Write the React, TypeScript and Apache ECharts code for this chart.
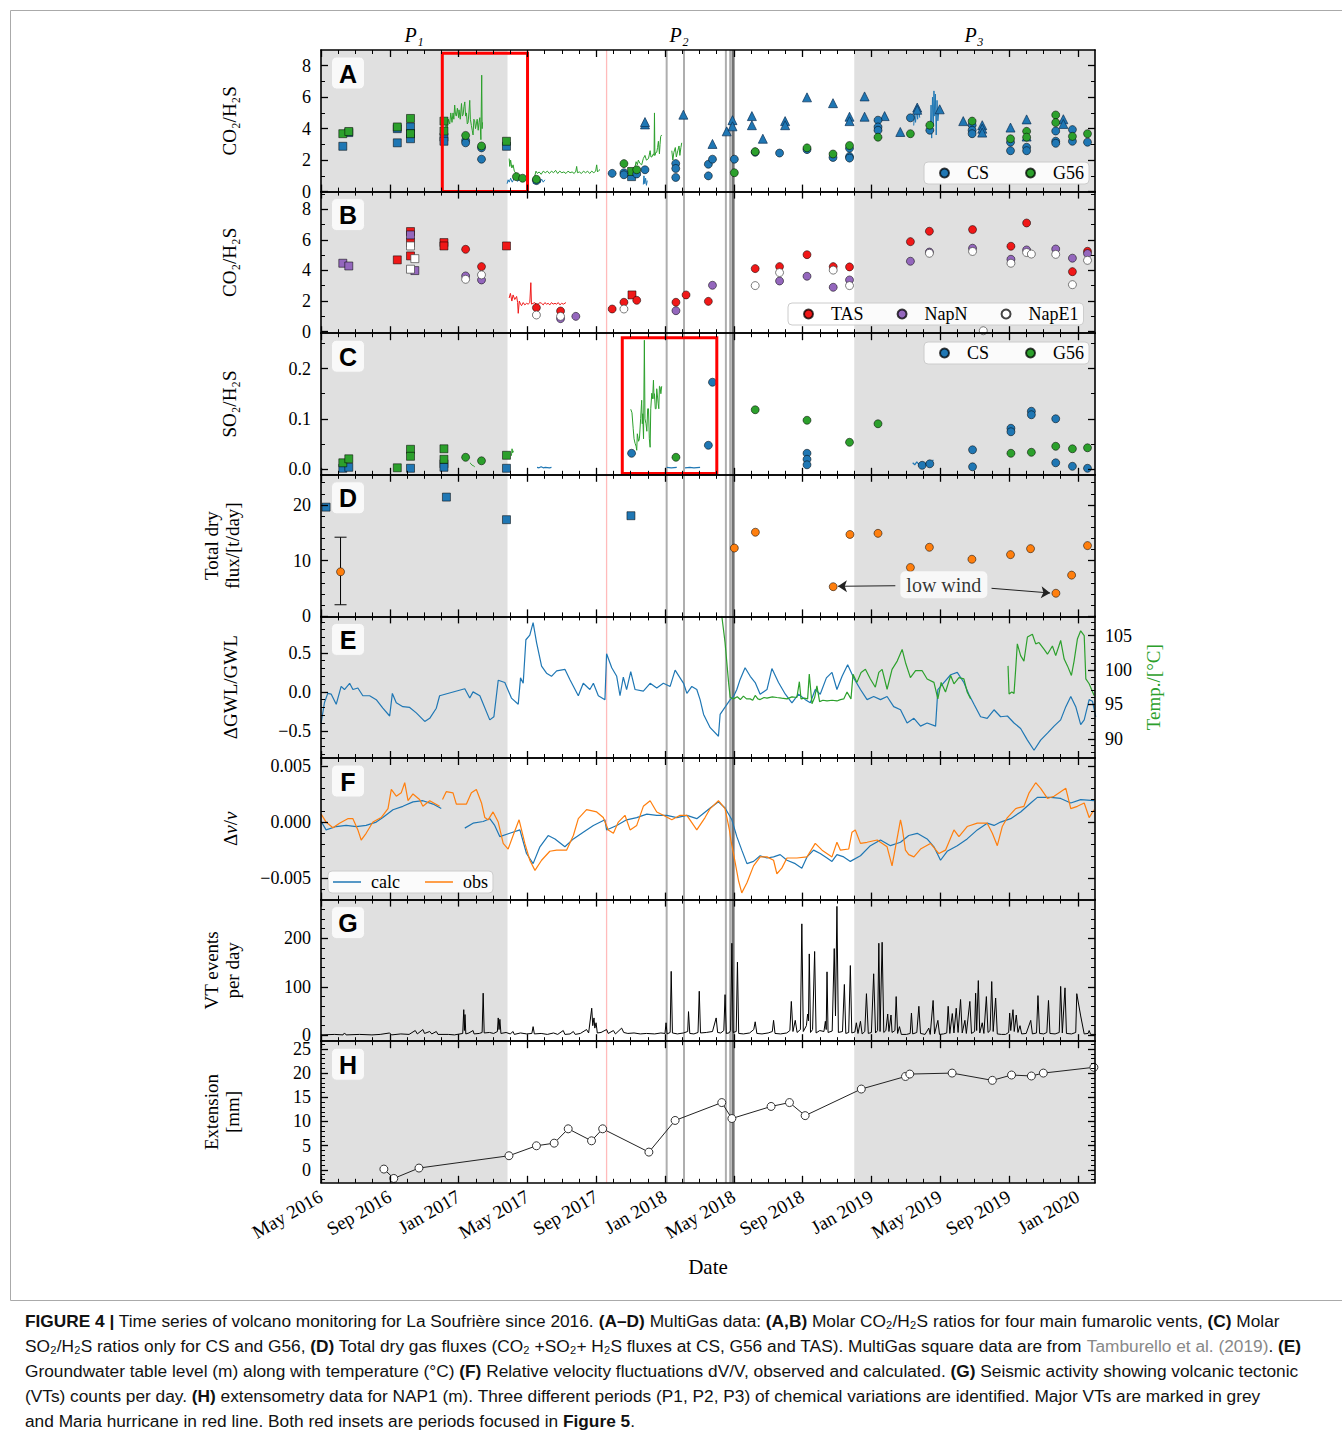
import React, { useEffect, useRef } from "react";
import * as echarts from "echarts";

const SERIF = '"Liberation Serif", "DejaVu Serif", serif';
const SANS = '"Liberation Sans", Arial, sans-serif';

const MONTH_NAMES = ["Jan", "Feb", "Mar", "Apr", "May", "Jun", "Jul", "Aug", "Sep", "Oct", "Nov", "Dec"];
// x axis unit: months since Jan 2016
const X_TICK_MONTHS = [4, 8, 12, 16, 20, 24, 28, 32, 36, 40, 44, 48];
const X_RANGE = [4, 49];

const BLUE = "#1f77b4";
const GREEN = "#2ca02c";
const RED = "#f01818";
const PURPLE = "#9467bd";
const ORANGE = "#ff7f0e";

// ---------- periods and event lines (decimal years)
const PERIOD_SHADES = [[2016.333, 2017.237], [2018.917, 2020.09]];
const MARIA_LINE = [2017.717];
const VT_LINES = [2018.008, 2018.092, 2018.295, 2018.316];
const VT_MAIN_LINE = [2018.33];
const RED_BOX_A = [[2016.921, 2017.334, 0, 8.8]];
const RED_BOX_C = [[2017.793, 2018.251, -0.0092, 0.262]];

// ---------- Panel A : CO2/H2S (CS, G56)
const aCsSquares = [[2016.439, 2.88], [2016.468, 3.75], [2016.703, 3.1], [2016.703, 4.0], [2016.767, 4.11], [2016.767, 3.68], [2016.767, 3.36], [2016.929, 3.46], [2016.929, 3.2], [2017.232, 2.88], [2017.838, 0.95]];
const aG56Squares = [[2016.439, 3.68], [2016.468, 3.82], [2016.703, 4.11], [2016.767, 4.65], [2016.767, 3.68], [2016.929, 4.48], [2016.929, 3.85], [2017.232, 3.2], [2017.838, 1.28]];
const aCsCircles = [[2017.034, 3.25], [2017.034, 3.1], [2017.111, 2.78], [2017.111, 2.06], [2017.377, 0.7], [2017.744, 1.16], [2017.801, 1.2], [2017.801, 1.07], [2017.863, 1.12], [2017.903, 1.39], [2018.052, 1.78], [2018.052, 1.47], [2018.052, 0.9], [2018.21, 1.0], [2018.21, 1.74], [2018.23, 2.06], [2018.336, 2.06], [2018.437, 2.5], [2018.555, 2.45], [2018.688, 2.67], [2018.814, 2.17], [2018.894, 2.75], [2018.894, 2.23], [2018.894, 2.13], [2019.032, 4.54], [2019.032, 4.11], [2019.032, 3.9], [2019.189, 4.69], [2019.283, 3.9], [2019.488, 4.22], [2019.488, 3.9], [2019.488, 3.68], [2019.674, 3.14], [2019.674, 2.6], [2019.752, 2.82], [2019.752, 2.6], [2019.893, 3.85], [2019.893, 3.2], [2019.893, 3.07], [2019.974, 3.94], [2019.974, 3.2], [2020.047, 3.14]];
const aG56Circles = [[2017.034, 3.57], [2017.111, 2.9], [2017.28, 0.95], [2017.31, 0.85], [2017.377, 0.78], [2017.801, 1.78], [2017.863, 1.39], [2018.336, 1.2], [2018.437, 2.54], [2018.688, 2.78], [2018.814, 2.39], [2018.894, 2.93], [2019.032, 3.46], [2019.189, 3.68], [2019.283, 4.22], [2019.488, 4.48], [2019.674, 3.36], [2019.752, 3.83], [2019.752, 3.46], [2019.893, 4.87], [2019.893, 4.39], [2019.974, 3.51], [2020.047, 3.68]];
const aCsTriangles = [[2017.903, 4.27], [2017.903, 4.42], [2018.089, 4.89], [2018.23, 3.03], [2018.299, 3.83], [2018.327, 4.54], [2018.327, 4.15], [2018.421, 4.8], [2018.421, 4.22], [2018.474, 3.36], [2018.582, 4.48], [2018.582, 4.22], [2018.688, 5.99], [2018.814, 5.62], [2018.894, 4.76], [2018.894, 4.48], [2018.967, 6.05], [2018.967, 4.76], [2019.064, 4.8], [2019.14, 3.79], [2019.222, 5.34], [2019.222, 5.2], [2019.331, 5.23], [2019.445, 4.48], [2019.537, 4.22], [2019.537, 4.0], [2019.537, 3.75], [2019.674, 4.07], [2019.752, 4.59], [2019.752, 3.5], [2019.93, 4.6], [2019.93, 4.3]];
const aG56Line1 = [[2016.936, 3.7], [2016.94, 4.5], [2016.945, 3.9], [2016.95, 4.6], [2016.957, 4.3], [2016.962, 5.0], [2016.968, 4.4], [2016.973, 5.0], [2016.977, 4.6], [2016.981, 5.5], [2016.985, 4.9], [2016.989, 4.8], [2016.994, 5.3], [2017.0, 4.7], [2017.002, 5.2], [2017.008, 4.6], [2017.014, 5.6], [2017.018, 4.8], [2017.022, 4.9], [2017.026, 5.4], [2017.03, 5.7], [2017.034, 4.8], [2017.038, 5.0], [2017.042, 4.3], [2017.046, 4.4], [2017.05, 5.0], [2017.054, 5.8], [2017.057, 4.6], [2017.062, 4.2], [2017.066, 3.9], [2017.07, 3.6], [2017.074, 4.6], [2017.078, 4.5], [2017.082, 4.0], [2017.086, 4.3], [2017.09, 4.6], [2017.095, 3.9], [2017.099, 4.4], [2017.103, 4.7], [2017.108, 3.3], [2017.112, 7.4], [2017.114, 4.0], [2017.116, 4.4]];
const aG56Line2 = [[2017.245, 2.1], [2017.248, 1.6], [2017.252, 2.0], [2017.258, 1.5], [2017.264, 1.7], [2017.27, 1.3], [2017.276, 1.2], [2017.282, 1.0], [2017.29, 1.05], [2017.296, 0.95]];
const aG56Line3 = [[2017.369, 1.0], [2017.375, 1.3], [2017.382, 1.15], [2017.39, 1.25], [2017.4, 1.1], [2017.41, 1.3], [2017.42, 1.2], [2017.43, 1.3], [2017.44, 1.15], [2017.45, 1.3], [2017.46, 1.2], [2017.47, 1.35], [2017.48, 1.15], [2017.49, 1.3], [2017.5, 1.2], [2017.51, 1.25], [2017.52, 1.15], [2017.53, 1.3], [2017.54, 1.2], [2017.55, 1.25], [2017.56, 1.15], [2017.568, 1.3], [2017.572, 1.6], [2017.576, 1.2], [2017.585, 1.25], [2017.595, 1.15], [2017.605, 1.3], [2017.615, 1.2], [2017.625, 1.3], [2017.635, 1.15], [2017.645, 1.3], [2017.655, 1.2], [2017.664, 1.3], [2017.669, 1.7], [2017.673, 1.25], [2017.68, 1.35], [2017.685, 1.4]];
const aG56Line4 = [[2017.855, 1.6], [2017.86, 1.9], [2017.866, 1.7], [2017.871, 2.0], [2017.878, 1.8], [2017.887, 1.7], [2017.895, 2.1], [2017.903, 2.3], [2017.91, 2.0], [2017.92, 2.1], [2017.928, 2.6], [2017.932, 2.2], [2017.936, 2.2], [2017.944, 2.4], [2017.947, 2.3], [2017.949, 5.0], [2017.951, 2.3], [2017.956, 2.5], [2017.96, 2.5], [2017.964, 2.8], [2017.968, 3.2], [2017.973, 2.4], [2017.976, 3.0], [2017.979, 3.5], [2017.984, 3.6]];
const aG56Line5 = [[2018.033, 2.6], [2018.038, 2.0], [2018.043, 2.5], [2018.05, 2.8], [2018.055, 2.2], [2018.062, 2.6], [2018.068, 2.9], [2018.072, 2.3], [2018.077, 2.8], [2018.081, 3.1]];
const aCsLine1 = [[2017.235, 0.5], [2017.24, 0.75], [2017.245, 0.6], [2017.252, 0.85], [2017.26, 0.6], [2017.268, 0.8], [2017.276, 0.9], [2017.285, 0.65], [2017.295, 0.75], [2017.305, 0.8], [2017.31, 0.7]];
const aCsLine2 = [[2017.362, 0.5], [2017.37, 0.85], [2017.378, 0.6], [2017.386, 0.9], [2017.394, 0.55], [2017.402, 0.8], [2017.41, 0.6], [2017.418, 0.75]];
const aCsLine3 = [[2017.895, 0.45], [2017.898, 1.0], [2017.902, 0.5], [2017.906, 0.85], [2017.91, 0.4], [2017.914, 0.7]];
const aCsLine4 = [[2019.205, 4.2], [2019.209, 5.0], [2019.214, 4.4], [2019.219, 5.3], [2019.224, 4.6], [2019.229, 5.4], [2019.234, 4.7]];
const aCsLine5 = [[2019.286, 4.0], [2019.289, 5.5], [2019.292, 3.4], [2019.296, 6.0], [2019.3, 4.2], [2019.303, 6.4], [2019.307, 4.8], [2019.31, 6.2], [2019.314, 3.6], [2019.318, 5.8], [2019.322, 4.5], [2019.326, 5.0]];

// ---------- Panel B : CO2/H2S (TAS, NapN, NapE1)
const bTasSquares = [[2016.703, 4.69], [2016.767, 6.54], [2016.767, 5.82], [2016.767, 4.95], [2016.929, 5.82], [2016.929, 5.6], [2017.232, 5.6], [2017.84, 2.4]];
const bNapNSquares = [[2016.439, 4.47], [2016.468, 4.29], [2016.767, 6.32], [2016.788, 3.99]];
const bNapE1Squares = [[2016.767, 5.6], [2016.767, 4.08], [2016.788, 4.77]];
const bTasCircles = [[2017.034, 5.38], [2017.111, 4.25], [2017.377, 1.57], [2017.494, 1.35], [2017.744, 1.48], [2017.801, 1.92], [2017.863, 2.05], [2018.053, 1.92], [2018.102, 2.4], [2018.21, 1.98], [2018.437, 4.12], [2018.555, 4.25], [2018.688, 5.03], [2018.815, 4.25], [2018.894, 4.23], [2019.189, 5.88], [2019.281, 6.56], [2019.49, 6.67], [2019.676, 5.58], [2019.752, 7.1], [2019.974, 3.92], [2020.047, 5.25]];
const bNapNCircles = [[2017.034, 3.64], [2017.111, 3.38], [2017.494, 0.85], [2017.568, 1.0], [2018.053, 1.37], [2018.23, 3.03], [2018.555, 3.31], [2018.688, 3.62], [2018.815, 2.9], [2018.894, 3.38], [2019.189, 4.6], [2019.281, 5.2], [2019.49, 5.45], [2019.676, 4.73], [2019.752, 5.34], [2019.893, 5.4], [2019.974, 4.8], [2020.047, 5.1]];
const bNapE1Circles = [[2017.034, 3.42], [2017.111, 3.71], [2017.377, 1.09], [2017.494, 1.0], [2017.801, 1.48], [2018.437, 3.01], [2018.555, 3.86], [2018.815, 4.02], [2018.894, 3.01], [2019.281, 5.12], [2019.49, 5.24], [2019.542, 0.06], [2019.676, 4.47], [2019.752, 5.17], [2019.775, 5.07], [2019.893, 5.05], [2019.974, 3.07], [2020.047, 4.66]];
const bTasLine = [[2017.245, 2.2], [2017.251, 2.5], [2017.258, 2.0], [2017.264, 2.4], [2017.272, 2.1], [2017.281, 2.3], [2017.286, 1.9], [2017.289, 1.2], [2017.294, 2.0], [2017.3, 1.8], [2017.305, 1.7], [2017.313, 1.9], [2017.321, 1.75], [2017.329, 1.85], [2017.337, 1.8], [2017.345, 1.9], [2017.35, 3.2], [2017.353, 1.8], [2017.361, 1.85], [2017.369, 1.9], [2017.378, 1.75], [2017.386, 1.8], [2017.394, 1.9], [2017.402, 1.85], [2017.41, 1.75], [2017.418, 1.9], [2017.426, 1.8], [2017.434, 1.85], [2017.442, 1.75], [2017.45, 1.9], [2017.458, 1.8], [2017.467, 1.85], [2017.475, 1.8], [2017.483, 1.9], [2017.491, 1.75], [2017.499, 1.85], [2017.508, 1.8], [2017.52, 1.9]];

// ---------- Panel C : SO2/H2S
const cCsSquares = [[2016.439, 0.001], [2016.468, 0.003], [2016.767, 0.001], [2016.929, 0.01], [2016.929, 0.003], [2017.232, 0.001]];
const cG56Squares = [[2016.439, 0.012], [2016.468, 0.02], [2016.703, 0.002], [2016.767, 0.039], [2016.767, 0.025], [2016.929, 0.04], [2016.929, 0.019], [2017.232, 0.027]];
const cCsCircles = [[2017.838, 0.031], [2018.21, 0.047], [2018.23, 0.173], [2018.688, 0.031], [2018.688, 0.019], [2018.688, 0.008], [2019.246, 0.007], [2019.283, 0.01], [2019.49, 0.038], [2019.49, 0.004], [2019.676, 0.081], [2019.676, 0.074], [2019.775, 0.115], [2019.775, 0.108], [2019.893, 0.1], [2019.893, 0.012], [2019.974, 0.005], [2020.047, 0.001]];
const cG56Circles = [[2017.034, 0.023], [2017.111, 0.016], [2018.053, 0.023], [2018.437, 0.118], [2018.688, 0.097], [2018.894, 0.053], [2019.032, 0.09], [2019.676, 0.031], [2019.775, 0.033], [2019.893, 0.045], [2019.974, 0.04], [2020.047, 0.042]];
const cG56Line1 = [[2017.055, 0.012], [2017.06, 0.01], [2017.066, 0.007], [2017.072, 0.006], [2017.078, 0.004]];
const cG56Line2 = [[2017.256, 0.026], [2017.259, 0.04], [2017.262, 0.032], [2017.266, 0.036]];
const cG56Line3 = [[2017.834, 0.119], [2017.84, 0.112], [2017.846, 0.08], [2017.85, 0.06], [2017.855, 0.051], [2017.86, 0.045], [2017.863, 0.037], [2017.866, 0.07], [2017.872, 0.055], [2017.876, 0.06], [2017.882, 0.1], [2017.887, 0.137], [2017.89, 0.09], [2017.892, 0.11], [2017.896, 0.06], [2017.9, 0.257], [2017.903, 0.1], [2017.908, 0.09], [2017.912, 0.075], [2017.916, 0.12], [2017.92, 0.12], [2017.924, 0.06], [2017.928, 0.043], [2017.931, 0.12], [2017.936, 0.151], [2017.94, 0.14], [2017.944, 0.177], [2017.947, 0.14], [2017.949, 0.15], [2017.953, 0.12], [2017.957, 0.12], [2017.96, 0.16], [2017.963, 0.16], [2017.967, 0.13], [2017.97, 0.12], [2017.973, 0.165], [2017.976, 0.164], [2017.98, 0.15], [2017.984, 0.165]];
const cCsLine1 = [[2017.38, 0.003], [2017.39, 0.002], [2017.4, 0.004], [2017.41, 0.002], [2017.42, 0.003], [2017.44, 0.002], [2017.45, 0.003]];
const cCsLine2 = [[2018.008, 0.003], [2018.03, 0.002], [2018.057, 0.003]];
const cCsLine3 = [[2018.097, 0.002], [2018.12, 0.003], [2018.14, 0.002], [2018.17, 0.003]];
const cCsLine4 = [[2019.2, 0.012], [2019.21, 0.008], [2019.22, 0.014], [2019.23, 0.009], [2019.26, 0.01], [2019.28, 0.016], [2019.29, 0.011], [2019.3, 0.018]];

// ---------- Panel D : total dry flux
const dCsFlux = [[2016.358, 19.6], [2016.941, 21.4], [2017.232, 17.35], [2017.835, 18.06]];
const dFluxErr = [[2016.428, 8.0, 2.1, 14.2]]; // time, mean, low, high
const dFluxCircles = [[2018.336, 12.26], [2018.438, 15.1], [2018.815, 5.33], [2018.896, 14.7], [2019.032, 14.9], [2019.189, 8.77], [2019.281, 12.4], [2019.487, 10.25], [2019.674, 11.08], [2019.771, 12.15], [2019.894, 4.15], [2019.97, 7.4], [2020.047, 12.7]];
const LOW_WIND_LABEL = [2019.351, 5.68];
const LOW_WIND_ARROWS = [[[2019.116, 5.5], [2018.838, 5.4]], [[2019.582, 5.04], [2019.866, 4.2]]];

// ---------- Panel E : groundwater level and temperature
const gwl = [[2016.334, -0.4], [2016.35, -0.14], [2016.366, -0.02], [2016.383, -0.03], [2016.407, -0.16], [2016.431, 0.07], [2016.447, 0.03], [2016.472, 0.11], [2016.488, 0.03], [2016.512, 0.05], [2016.536, -0.05], [2016.569, -0.05], [2016.601, -0.1], [2016.633, -0.21], [2016.666, -0.31], [2016.679, -0.02], [2016.698, -0.14], [2016.73, -0.19], [2016.763, -0.2], [2016.795, -0.27], [2016.836, -0.38], [2016.86, -0.34], [2016.892, -0.21], [2016.908, -0.05], [2017.03, 0.04], [2017.054, -0.08], [2017.07, 0.0], [2017.103, -0.05], [2017.151, -0.36], [2017.171, -0.32], [2017.192, 0.15], [2017.224, 0.12], [2017.256, -0.08], [2017.289, -0.16], [2017.3, 0.18], [2017.313, 0.11], [2017.326, 0.67], [2017.345, 0.73], [2017.361, 0.89], [2017.378, 0.63], [2017.402, 0.33], [2017.426, 0.24], [2017.45, 0.2], [2017.475, 0.27], [2017.515, 0.29], [2017.539, 0.16], [2017.58, -0.05], [2017.604, 0.11], [2017.636, 0.03], [2017.653, 0.11], [2017.677, -0.05], [2017.709, -0.1], [2017.717, 0.49], [2017.742, 0.31], [2017.766, 0.2], [2017.782, -0.05], [2017.798, 0.19], [2017.814, 0.03], [2017.834, 0.26], [2017.855, 0.03], [2017.895, 0.01], [2017.928, 0.11], [2017.96, 0.05], [2017.992, 0.11], [2018.025, 0.07], [2018.049, 0.28], [2018.09, 0.11], [2018.106, -0.02], [2018.13, 0.07], [2018.154, 0.03], [2018.17, -0.1], [2018.187, -0.29], [2018.219, -0.46], [2018.259, -0.57], [2018.267, -0.29], [2018.316, -0.1], [2018.332, -0.06], [2018.348, 0.03], [2018.364, 0.16], [2018.388, 0.31], [2018.413, 0.2], [2018.437, 0.12], [2018.461, -0.03], [2018.494, 0.03], [2018.518, 0.3], [2018.55, 0.12], [2018.583, -0.03], [2018.615, -0.14], [2018.647, -0.03], [2018.68, -0.1], [2018.704, -0.14], [2018.728, 0.03], [2018.752, -0.03], [2018.782, 0.18], [2018.809, 0.25], [2018.833, 0.03], [2018.858, 0.2], [2018.885, 0.35], [2018.914, 0.18], [2018.947, 0.03], [2018.979, -0.1], [2019.011, -0.06], [2019.044, -0.1], [2019.076, -0.06], [2019.108, -0.19], [2019.141, -0.23], [2019.173, -0.4], [2019.206, -0.34], [2019.238, -0.44], [2019.27, -0.4], [2019.311, -0.44], [2019.322, 0.03], [2019.351, 0.12], [2019.384, 0.22], [2019.416, 0.25], [2019.448, 0.12], [2019.472, -0.03], [2019.497, -0.16], [2019.529, -0.32], [2019.561, -0.34], [2019.594, -0.23], [2019.626, -0.32], [2019.659, -0.31], [2019.691, -0.4], [2019.723, -0.47], [2019.756, -0.62], [2019.788, -0.75], [2019.82, -0.62], [2019.853, -0.53], [2019.885, -0.44], [2019.917, -0.36], [2019.942, -0.19], [2019.966, -0.06], [2019.99, -0.19], [2020.014, -0.42], [2020.031, -0.36], [2020.055, -0.1], [2020.071, -0.12], [2020.087, -0.32]];
const tempSeg1 = [[2018.275, 107.9], [2018.291, 104.0], [2018.308, 98.2], [2018.316, 96.0], [2018.332, 95.8], [2018.35, 96.1], [2018.365, 95.7], [2018.38, 96.2], [2018.395, 95.8], [2018.413, 95.8], [2018.425, 95.6], [2018.437, 96.3], [2018.45, 95.8], [2018.461, 95.7], [2018.48, 96.0], [2018.494, 95.9], [2018.52, 96.1], [2018.542, 96.0], [2018.565, 95.9], [2018.591, 95.8], [2018.615, 96.1], [2018.639, 96.0], [2018.651, 98.3], [2018.659, 95.8], [2018.675, 95.9], [2018.691, 95.8], [2018.699, 99.4], [2018.712, 95.1], [2018.725, 96.0], [2018.736, 97.7], [2018.749, 95.4], [2018.765, 95.6], [2018.785, 95.5], [2018.81, 95.6], [2018.833, 95.5], [2018.85, 95.7], [2018.866, 95.8], [2018.882, 96.8], [2018.901, 95.8], [2018.911, 99.4], [2018.93, 98.2], [2018.95, 99.65], [2018.971, 100.1], [2018.995, 98.7], [2019.019, 97.5], [2019.036, 99.65], [2019.052, 100.1], [2019.076, 97.2], [2019.1, 100.1], [2019.125, 101.3], [2019.149, 103.0], [2019.165, 101.1], [2019.189, 98.9], [2019.214, 99.9], [2019.246, 99.9], [2019.27, 98.7], [2019.303, 98.2], [2019.322, 95.8], [2019.338, 98.2], [2019.359, 96.8], [2019.384, 99.2], [2019.4, 98.0], [2019.424, 98.9], [2019.448, 98.7], [2019.464, 96.8], [2019.481, 95.8]];
const tempSeg2 = [[2019.662, 100.6], [2019.667, 96.5], [2019.68, 96.8], [2019.691, 96.6], [2019.699, 100.1], [2019.707, 103.8], [2019.723, 102.1], [2019.739, 101.3], [2019.756, 104.8], [2019.78, 105.2], [2019.796, 103.8], [2019.812, 104.0], [2019.837, 103.0], [2019.853, 102.3], [2019.877, 103.5], [2019.893, 102.1], [2019.917, 104.3], [2019.934, 101.6], [2019.95, 100.6], [2019.969, 99.2], [2019.982, 101.3], [2019.998, 104.5], [2020.014, 105.7], [2020.031, 105.0], [2020.039, 98.7], [2020.055, 98.0], [2020.079, 96.3]];

// ---------- Panel F : dv/v
const calcSeg1 = [[2016.334, 0.00005], [2016.358, -0.0007], [2016.407, -0.0004], [2016.455, -0.0003], [2016.504, -0.0004], [2016.552, -0.0003], [2016.601, 0.0], [2016.633, 0.0004], [2016.682, 0.0011], [2016.73, 0.0014], [2016.779, 0.0018], [2016.827, 0.0019], [2016.876, 0.0016], [2016.916, 0.0012]];
const calcSeg2 = [[2017.03, -0.00054], [2017.07, -0.0001], [2017.119, 0.00005], [2017.151, 0.0003], [2017.175, -0.0003], [2017.2, -0.0013], [2017.248, -0.001], [2017.297, -0.0007], [2017.329, -0.0028], [2017.361, -0.0037], [2017.394, -0.0022], [2017.434, -0.0012], [2017.467, -0.0015], [2017.515, -0.0022], [2017.556, -0.0015], [2017.604, -0.0009], [2017.653, -0.0003], [2017.709, 0.0002], [2017.717, -0.0007], [2017.766, -0.0003], [2017.814, 0.0002], [2017.863, 0.0004], [2017.912, 0.0007], [2017.96, 0.0006], [2018.009, 0.0006], [2018.057, 0.0004], [2018.106, 0.0006], [2018.154, 0.0003], [2018.219, 0.00125], [2018.259, 0.0018], [2018.291, 0.00125], [2018.324, 0.0002], [2018.348, -0.0013], [2018.372, -0.0025], [2018.397, -0.0037], [2018.429, -0.0035], [2018.461, -0.003], [2018.494, -0.0032], [2018.526, -0.0031], [2018.558, -0.0029], [2018.591, -0.0034], [2018.631, -0.0037], [2018.663, -0.0041], [2018.688, -0.0031], [2018.72, -0.0025], [2018.752, -0.0028], [2018.785, -0.0032], [2018.809, -0.0035], [2018.833, -0.0029], [2018.866, -0.0031], [2018.898, -0.0035], [2018.947, -0.003], [2018.995, -0.0021], [2019.044, -0.0016], [2019.092, -0.0021], [2019.141, -0.0018], [2019.181, -0.0012], [2019.222, -0.001], [2019.27, -0.0015], [2019.303, -0.0022], [2019.335, -0.0034], [2019.367, -0.0026], [2019.416, -0.0021], [2019.464, -0.0015], [2019.513, -0.0007], [2019.561, -0.0001], [2019.594, -0.0003], [2019.626, 0.0], [2019.675, 0.0003], [2019.723, 0.0009], [2019.772, 0.0017], [2019.804, 0.0022], [2019.869, 0.0022], [2019.917, 0.0021], [2019.966, 0.0017], [2020.014, 0.002], [2020.079, 0.0019]];
const obsSeg1 = [[2016.334, 0.0007], [2016.358, 0.0], [2016.391, -0.0005], [2016.423, -0.0001], [2016.463, 0.0003], [2016.488, 0.0003], [2016.512, -0.0007], [2016.528, -0.0016], [2016.552, -0.001], [2016.585, 0.0], [2016.625, 0.0004], [2016.658, 0.0012], [2016.674, 0.0029], [2016.698, 0.0023], [2016.722, 0.0026], [2016.739, 0.0035], [2016.755, 0.0019], [2016.779, 0.0025], [2016.811, 0.002], [2016.827, 0.0014], [2016.86, 0.0019], [2016.908, 0.0014]];
const obsSeg2 = [[2016.922, 0.002], [2016.94, 0.0027], [2016.973, 0.0026], [2016.989, 0.0016], [2017.014, 0.0016], [2017.038, 0.0016], [2017.062, 0.0026], [2017.086, 0.0029], [2017.111, 0.0017], [2017.127, 0.0004], [2017.143, 0.0002], [2017.167, 0.0009], [2017.192, 0.0], [2017.216, -0.0019], [2017.24, -0.0024], [2017.264, -0.0012], [2017.293, 0.0002], [2017.321, -0.0019], [2017.345, -0.0034], [2017.37, -0.0043], [2017.402, -0.0034], [2017.442, -0.0026], [2017.475, -0.0025], [2017.523, -0.0025], [2017.556, -0.0012], [2017.58, 0.0003], [2017.62, 0.0011], [2017.669, 0.0009], [2017.701, 0.0004], [2017.725, -0.0007], [2017.75, -0.001], [2017.774, 0.0], [2017.806, 0.0006], [2017.831, -0.0007], [2017.863, -0.0003], [2017.895, 0.0014], [2017.928, 0.0019], [2017.96, 0.0009], [2017.992, 0.0006], [2018.033, 0.0002], [2018.073, 0.0006], [2018.106, 0.0006], [2018.154, -0.0007], [2018.194, 0.0004], [2018.219, 0.0012], [2018.259, 0.0019], [2018.291, 0.0012], [2018.312, -0.0007], [2018.319, -0.0016], [2018.332, -0.0028], [2018.356, -0.0052], [2018.372, -0.0063], [2018.397, -0.0054], [2018.429, -0.0039], [2018.461, -0.0031], [2018.494, -0.0031], [2018.526, -0.0034], [2018.542, -0.0046], [2018.566, -0.0041], [2018.591, -0.0032], [2018.639, -0.0032], [2018.688, -0.0031], [2018.728, -0.0019], [2018.761, -0.0025], [2018.809, -0.0031], [2018.833, -0.0018], [2018.85, -0.0025], [2018.89, -0.0024], [2018.906, -0.0009], [2018.922, -0.0007], [2018.947, -0.0019], [2018.979, -0.0018], [2019.028, -0.0016], [2019.076, -0.0022], [2019.1, -0.0039], [2019.117, -0.0022], [2019.141, 0.0002], [2019.149, -0.0005], [2019.165, -0.0025], [2019.181, -0.0029], [2019.206, -0.0031], [2019.238, -0.0024], [2019.286, -0.0019], [2019.327, -0.0028], [2019.359, -0.0025], [2019.4, -0.0007], [2019.424, -0.0013], [2019.464, -0.0004], [2019.513, -0.0001], [2019.561, -0.0001], [2019.586, -0.001], [2019.61, -0.0021], [2019.634, -0.0004], [2019.659, 0.0004], [2019.699, 0.0012], [2019.739, 0.0014], [2019.764, 0.0026], [2019.796, 0.0035], [2019.82, 0.003], [2019.853, 0.0021], [2019.885, 0.0023], [2019.917, 0.0027], [2019.942, 0.003], [2019.966, 0.0012], [2019.998, 0.0014], [2020.031, 0.0017], [2020.055, 0.0004], [2020.079, 0.0011]];

// ---------- Panel G : VT events per day
const vtCounts = [[2016.334, 1], [2016.4, 2], [2016.44, 1], [2016.447, 5], [2016.455, 1], [2016.52, 2], [2016.58, 1], [2016.62, 2], [2016.666, 5], [2016.675, 1], [2016.72, 3], [2016.76, 2], [2016.79, 10], [2016.8, 3], [2016.827, 12], [2016.835, 4], [2016.86, 8], [2016.87, 3], [2016.892, 8], [2016.9, 2], [2016.95, 2], [2016.98, 1], [2017.02, 4], [2017.025, 53], [2017.028, 10], [2017.031, 43], [2017.035, 3], [2017.05, 5], [2017.07, 10], [2017.075, 3], [2017.1, 4], [2017.114, 6], [2017.119, 87], [2017.124, 5], [2017.15, 6], [2017.17, 4], [2017.188, 8], [2017.192, 36], [2017.196, 12], [2017.2, 33], [2017.205, 4], [2017.23, 6], [2017.25, 3], [2017.264, 8], [2017.27, 2], [2017.3, 5], [2017.33, 3], [2017.355, 4], [2017.361, 18], [2017.367, 3], [2017.4, 4], [2017.43, 2], [2017.46, 5], [2017.48, 2], [2017.507, 10], [2017.515, 2], [2017.54, 3], [2017.556, 8], [2017.565, 2], [2017.59, 4], [2017.62, 12], [2017.63, 5], [2017.645, 56], [2017.65, 20], [2017.656, 36], [2017.66, 15], [2017.666, 26], [2017.672, 5], [2017.69, 6], [2017.717, 12], [2017.725, 4], [2017.75, 10], [2017.76, 3], [2017.79, 15], [2017.8, 6], [2017.82, 4], [2017.85, 5], [2017.88, 3], [2017.91, 4], [2017.95, 3], [2017.98, 5], [2018.0, 4], [2018.005, 26], [2018.01, 3], [2018.025, 6], [2018.03, 132], [2018.036, 5], [2018.06, 3], [2018.09, 5], [2018.11, 8], [2018.114, 49], [2018.12, 4], [2018.14, 3], [2018.16, 6], [2018.166, 91], [2018.172, 5], [2018.2, 6], [2018.23, 8], [2018.248, 36], [2018.255, 6], [2018.27, 5], [2018.285, 10], [2018.291, 84], [2018.297, 4], [2018.31, 5], [2018.318, 10], [2018.324, 190], [2018.33, 6], [2018.345, 8], [2018.351, 151], [2018.357, 4], [2018.38, 3], [2018.41, 5], [2018.43, 12], [2018.437, 28], [2018.445, 4], [2018.47, 3], [2018.5, 5], [2018.52, 8], [2018.526, 31], [2018.533, 4], [2018.56, 3], [2018.59, 5], [2018.605, 10], [2018.612, 70], [2018.62, 8], [2018.631, 31], [2018.64, 6], [2018.656, 12], [2018.663, 230], [2018.67, 8], [2018.685, 20], [2018.691, 44], [2018.695, 30], [2018.699, 168], [2018.705, 6], [2018.715, 12], [2018.725, 173], [2018.732, 5], [2018.75, 10], [2018.77, 8], [2018.777, 29], [2018.781, 12], [2018.785, 131], [2018.79, 6], [2018.81, 9], [2018.82, 179], [2018.826, 40], [2018.833, 266], [2018.84, 6], [2018.86, 8], [2018.869, 105], [2018.876, 4], [2018.89, 6], [2018.898, 144], [2018.905, 5], [2018.92, 7], [2018.927, 26], [2018.935, 4], [2018.947, 29], [2018.955, 3], [2018.968, 8], [2018.976, 86], [2018.985, 4], [2019.0, 6], [2019.011, 127], [2019.02, 5], [2019.03, 10], [2019.036, 190], [2019.042, 8], [2019.052, 192], [2019.06, 6], [2019.07, 10], [2019.079, 44], [2019.085, 8], [2019.095, 42], [2019.1, 6], [2019.114, 10], [2019.12, 80], [2019.127, 4], [2019.136, 18], [2019.145, 2], [2019.17, 2], [2019.188, 4], [2019.194, 46], [2019.2, 3], [2019.22, 6], [2019.23, 60], [2019.238, 4], [2019.26, 2], [2019.278, 15], [2019.285, 2], [2019.299, 72], [2019.306, 3], [2019.322, 31], [2019.33, 2], [2019.35, 3], [2019.365, 5], [2019.372, 60], [2019.38, 4], [2019.392, 45], [2019.4, 5], [2019.411, 56], [2019.42, 6], [2019.432, 74], [2019.44, 5], [2019.453, 31], [2019.46, 4], [2019.477, 70], [2019.485, 4], [2019.5, 8], [2019.505, 87], [2019.51, 10], [2019.518, 113], [2019.525, 5], [2019.537, 26], [2019.545, 4], [2019.557, 80], [2019.565, 6], [2019.575, 10], [2019.583, 111], [2019.59, 8], [2019.602, 77], [2019.61, 3], [2019.63, 2], [2019.65, 2], [2019.665, 6], [2019.67, 46], [2019.675, 10], [2019.686, 53], [2019.692, 8], [2019.702, 42], [2019.71, 6], [2019.72, 20], [2019.728, 3], [2019.75, 4], [2019.772, 31], [2019.78, 3], [2019.8, 5], [2019.807, 82], [2019.815, 4], [2019.835, 3], [2019.85, 6], [2019.858, 72], [2019.865, 4], [2019.89, 3], [2019.91, 6], [2019.917, 101], [2019.925, 5], [2019.938, 98], [2019.945, 4], [2019.97, 3], [2019.99, 6], [2019.995, 86], [2020.014, 40], [2020.031, 3], [2020.05, 4], [2020.055, 10], [2020.062, 2], [2020.079, 2], [2020.09, 1]];

// ---------- Panel H : extensometry
const extension = [[2016.638, 0.14], [2016.686, -1.8], [2016.808, 0.35], [2017.244, 2.9], [2017.377, 4.96], [2017.463, 5.5], [2017.531, 8.47], [2017.644, 5.99], [2017.698, 8.47], [2017.922, 3.65], [2018.049, 10.2], [2018.275, 13.9], [2018.324, 10.6], [2018.514, 13.1], [2018.603, 13.9], [2018.679, 11.2], [2018.951, 16.7], [2019.165, 19.3], [2019.186, 19.8], [2019.391, 20.0], [2019.586, 18.5], [2019.679, 19.6], [2019.775, 19.4], [2019.833, 20.0], [2020.078, 21.2]];

// ---------- y axes of the 8 panels (tick labels)
const PANELS = [
  { letter: "A", name: "CO₂/H₂S", min: 0, max: 9, ticks: [0, 2, 4, 6, 8], minorStep: 1, dec: 0, gap: 81 },
  { letter: "B", name: "CO₂/H₂S", min: -0.1, max: 9.15, ticks: [0, 2, 4, 6, 8], minorStep: 1, dec: 0, gap: 81 },
  { letter: "C", name: "SO₂/H₂S", min: -0.012, max: 0.271, ticks: [0, 0.1, 0.2], minorStep: 0.05, dec: 1, gap: 81 },
  { letter: "D", name: "Total dry\nflux/[t/day]", min: 0, max: 25.4, ticks: [0, 10, 20], minorStep: 2, dec: 0, gap: 78 },
  { letter: "E", name: "ΔGWL/GWL", min: -0.85, max: 0.97, ticks: [-0.5, 0, 0.5], minorStep: 0.1, dec: 1, gap: 80 },
  { letter: "F", name: "Δ{i|v}/{i|v}", min: -0.0069, max: 0.0057, ticks: [-0.005, 0, 0.005], minorStep: 0.001, dec: 3, gap: 80 },
  { letter: "G", name: "VT events\nper day", min: -12, max: 280, ticks: [0, 100, 200], minorStep: 20, dec: 0, gap: 78 },
  { letter: "H", name: "Extension\n[mm]", min: -2.7, max: 26.6, ticks: [0, 5, 10, 15, 20, 25], minorStep: 1, dec: 0, gap: 78 },
];
const TEMP_AXIS = { name: "Temp./[°C]", min: 87.2, max: 107.8, ticks: [90, 95, 100, 105], minorStep: 1 };

const PERIOD_LABELS = [["P₁", 414], ["P₂", 679], ["P₃", 974]];

const CAPTION_LINES = [
  "{b|FIGURE 4 |} Time series of volcano monitoring for La Soufrière since 2016. {b|(A–D)} MultiGas data: {b|(A,B)} Molar CO₂/H₂S ratios for four main fumarolic vents, {b|(C)} Molar",
  "SO₂/H₂S ratios only for CS and G56, {b|(D)} Total dry gas fluxes (CO₂ +SO₂+ H₂S fluxes at CS, G56 and TAS). MultiGas square data are from {g|Tamburello et al. (2019)}. {b|(E)}",
  "Groundwater table level (m) along with temperature (°C) {b|(F)} Relative velocity fluctuations dV/V, observed and calculated. {b|(G)} Seismic activity showing volcanic tectonic",
  "(VTs) counts per day. {b|(H)} extensometry data for NAP1 (m). Three different periods (P1, P2, P3) of chemical variations are identified. Major VTs are marked in grey",
  "and Maria hurricane in red line. Both red insets are periods focused in {b|Figure 5}.",
];

// ---------- layout
const GRID_LEFT = 321;
const GRID_W = 774;
const GRID_TOP = 50;
const GRID_H = 141.6;
const X_TICK_FONT = 19;
const Y_TICK_FONT = 18;
const CAPTION_FONT = 17.3;

const toM = (t: number) => Math.round((t - 2016) * 12 * 10000) / 10000;
const xy = (arr: number[][]) => arr.map((d) => [toM(d[0]), d[1]]);

function minorTicks(lo: number, hi: number, step: number, majors: number[]) {
  const out: number[] = [];
  const k0 = Math.ceil(lo / step - 1e-6);
  const k1 = Math.floor(hi / step + 1e-6);
  for (let k = k0; k <= k1; k++) {
    const v = +(k * step).toFixed(6);
    if (majors.some((m) => Math.abs(m - v) < step * 0.01)) continue;
    if (v <= lo + step * 0.01 || v >= hi - step * 0.01) continue;
    out.push(v);
  }
  return out;
}

function fmtNum(v: number, dec: number) {
  let s = Number(v).toFixed(dec);
  if (Math.abs(v) < 1e-12) s = (0).toFixed(dec);
  if (s.startsWith("-")) s = "−" + s.slice(1);
  return s;
}

function buildOption() {
  const grids: any[] = [];
  const xAxes: any[] = [];
  const yAxes: any[] = [];
  const series: any[] = [];
  const graphics: any[] = [];

  const xMinor = minorTicks(X_RANGE[0], X_RANGE[1], 1, X_TICK_MONTHS);

  PANELS.forEach((p, i) => {
    const top = GRID_TOP + i * GRID_H;
    grids.push({ left: GRID_LEFT, top, width: GRID_W, height: GRID_H, outerBoundsMode: "none", containLabel: false });
    const last = i === PANELS.length - 1;
    ["bottom", "top"].forEach((pos) => {
      [true, false].forEach((major) => {
        const showLabels = major && last && pos === "bottom";
        xAxes.push({
          gridIndex: i,
          type: "value",
          position: pos,
          min: X_RANGE[0],
          max: X_RANGE[1],
          z: 10,
          axisLine: { show: major, onZero: false, lineStyle: { color: "#000", width: 1.6 } },
          axisTick: {
            show: true,
            inside: true,
            length: major ? 7 : 4,
            lineStyle: { color: "#000", width: major ? 1.3 : 1 },
            customValues: major ? X_TICK_MONTHS : xMinor,
          },
          minorTick: { show: false },
          splitLine: { show: false },
          axisLabel: showLabels
            ? {
                show: true,
                customValues: X_TICK_MONTHS,
                rotate: 30,
                margin: 12,
                fontFamily: SERIF,
                fontSize: X_TICK_FONT,
                color: "#000",
                formatter: (v: number) => {
                  const m = Math.round(v);
                  return MONTH_NAMES[m % 12] + " " + (2016 + Math.floor(m / 12));
                },
              }
            : { show: false },
          name: showLabels ? "Date" : "",
          nameLocation: "middle",
          nameGap: 74,
          nameTextStyle: { fontFamily: SERIF, fontSize: 21, color: "#000" },
        });
      });
    });

    const isE = p.letter === "E";
    const yMinor = minorTicks(p.min, p.max, p.minorStep, p.ticks);
    const tMinor = minorTicks(TEMP_AXIS.min, TEMP_AXIS.max, TEMP_AXIS.minorStep, TEMP_AXIS.ticks);
    ["left", "right"].forEach((pos) => {
      [true, false].forEach((major) => {
        const temp = isE && pos === "right";
        const mn = temp ? TEMP_AXIS.min : p.min;
        const mx = temp ? TEMP_AXIS.max : p.max;
        const majors = temp ? TEMP_AXIS.ticks : p.ticks;
        const minors = temp ? tMinor : yMinor;
        const labels = major && (pos === "left" || temp);
        yAxes.push({
          gridIndex: i,
          type: "value",
          position: pos,
          min: mn,
          max: mx,
          z: 10,
          axisLine: { show: major, onZero: false, lineStyle: { color: "#000", width: 1.6 } },
          axisTick: {
            show: true,
            inside: true,
            length: major ? 7 : 4,
            lineStyle: { color: "#000", width: major ? 1.3 : 1 },
            customValues: major ? majors : minors,
          },
          minorTick: { show: false },
          splitLine: { show: false },
          axisLabel: labels
            ? {
                show: true,
                customValues: majors,
                margin: 10,
                fontFamily: SERIF,
                fontSize: Y_TICK_FONT,
                color: "#000",
                formatter: (v: number) => (temp ? String(Math.round(v)) : fmtNum(v, p.dec)),
              }
            : { show: false },
          name: labels ? (temp ? TEMP_AXIS.name : p.name) : "",
          nameLocation: "middle",
          nameRotate: 90,
          nameGap: temp ? 46 : p.gap,
          nameTextStyle: {
            fontFamily: SERIF,
            fontSize: 19,
            lineHeight: 21,
            color: temp ? GREEN : "#000",
            rich: { i: { fontFamily: SERIF, fontSize: 19, fontStyle: "italic", color: "#000" } },
          },
        });
      });
    });

    // background period shading
    series.push({
      type: "custom",
      name: "period" + i,
      xAxisIndex: 4 * i,
      yAxisIndex: 4 * i,
      z: 1,
      silent: true,
      data: PERIOD_SHADES.map(([a, b]) => [toM(a), toM(b), 0]),
      encode: { x: [0, 1], y: 2 },
      renderItem: (params: any, api: any) => {
        const cs = params.coordSys;
        let x1 = api.coord([api.value(0), 0])[0];
        let x2 = api.coord([api.value(1), 0])[0];
        x1 = Math.max(x1, cs.x);
        x2 = Math.min(x2, cs.x + cs.width);
        return { type: "rect", shape: { x: x1, y: cs.y, width: x2 - x1, height: cs.height }, style: { fill: "#e0e0e0" } };
      },
    });
    const vline = (times: number[], stroke: string, width: number, nm: string) => ({
      type: "custom",
      name: nm + i,
      xAxisIndex: 4 * i,
      yAxisIndex: 4 * i,
      z: 2,
      silent: true,
      data: times.map((t) => [toM(t), 0]),
      encode: { x: 0, y: 1 },
      renderItem: (params: any, api: any) => {
        const cs = params.coordSys;
        const x = api.coord([api.value(0), 0])[0];
        return { type: "line", shape: { x1: x, y1: cs.y, x2: x, y2: cs.y + cs.height }, style: { stroke, lineWidth: width } };
      },
    });
    series.push(vline(MARIA_LINE, "rgba(255,60,60,0.35)", 1.3, "maria"));
    series.push(vline(VT_LINES, "rgba(120,120,120,0.6)", 2, "vt"));
    series.push(vline(VT_MAIN_LINE, "rgba(90,90,90,0.85)", 3, "vtmain"));

    graphics.push({
      type: "group",
      children: [
        { type: "rect", shape: { x: 331.5, y: top + 7, width: 33, height: 32, r: 5 }, style: { fill: "rgba(255,255,255,0.8)", stroke: "#e0e0e0", lineWidth: 1 }, z: 100 },
        { type: "text", x: 348, y: top + 23.5, style: { text: p.letter, fontFamily: SANS, fontWeight: "bold", fontSize: 25, fill: "#000", align: "center", verticalAlign: "middle" }, z: 101 },
      ],
    });
  });

  const scat = (i: number, name: string, data: number[][], symbol: string, color: string, size = 8, border = "rgba(0,0,0,0.75)") => ({
    type: "scatter",
    name,
    xAxisIndex: 4 * i,
    yAxisIndex: 4 * i,
    data: xy(data),
    symbol,
    symbolSize: size,
    itemStyle: { color, borderColor: border, borderWidth: 0.7, opacity: 1 },
    z: 5,
    silent: true,
  });
  const ln = (i: number, name: string, data: number[][], color: string, width = 1, yIdx?: number) => ({
    type: "line",
    name,
    xAxisIndex: 4 * i,
    yAxisIndex: yIdx === undefined ? 4 * i : yIdx,
    data: xy(data),
    symbol: "none",
    showSymbol: false,
    color,
    lineStyle: { color, width },
    itemStyle: { color },
    z: 4,
    silent: true,
  });
  const redBox = (i: number, boxes: number[][]) => ({
    type: "custom",
    name: "box" + i,
    xAxisIndex: 4 * i,
    yAxisIndex: 4 * i,
    z: 7,
    silent: true,
    data: boxes.map(([t1, t2, y1, y2]) => [toM(t1), toM(t2), y1, y2]),
    encode: { x: [0, 1], y: [2, 3] },
    renderItem: (params: any, api: any) => {
      const p1 = api.coord([api.value(0), api.value(3)]);
      const p2 = api.coord([api.value(1), api.value(2)]);
      return { type: "rect", shape: { x: p1[0], y: p1[1], width: p2[0] - p1[0], height: p2[1] - p1[1] }, style: { fill: "none", stroke: "#ff0000", lineWidth: 3 } };
    },
  });

  // ---- A
  series.push(redBox(0, RED_BOX_A));
  [aG56Line1, aG56Line2, aG56Line3, aG56Line4, aG56Line5].forEach((d, k) => series.push(ln(0, "G56 line A" + k, d, GREEN, 1)));
  [aCsLine1, aCsLine2, aCsLine3, aCsLine4, aCsLine5].forEach((d, k) => series.push(ln(0, "CS line A" + k, d, BLUE, 1)));
  series.push(scat(0, "CS (Tamburello)", aCsSquares, "rect", BLUE));
  series.push(scat(0, "G56 (Tamburello)", aG56Squares, "rect", GREEN));
  series.push(scat(0, "CS triangles", aCsTriangles, "triangle", BLUE, 9, "#0b2f55"));
  series.push(scat(0, "CS", aCsCircles, "circle", BLUE));
  series.push(scat(0, "G56", aG56Circles, "circle", GREEN));

  // ---- B
  series.push(ln(1, "TAS line", bTasLine, RED, 1));
  series.push(scat(1, "TAS (Tamburello)", bTasSquares, "rect", RED));
  series.push(scat(1, "NapN (Tamburello)", bNapNSquares, "rect", PURPLE));
  series.push(scat(1, "NapE1 (Tamburello)", bNapE1Squares, "rect", "#ffffff", 8, "#444"));
  series.push(scat(1, "TAS", bTasCircles, "circle", RED));
  series.push(scat(1, "NapN", bNapNCircles, "circle", PURPLE));
  series.push(scat(1, "NapE1", bNapE1Circles, "circle", "#ffffff", 8, "#444"));

  // ---- C
  series.push(redBox(2, RED_BOX_C));
  [cG56Line1, cG56Line2, cG56Line3].forEach((d, k) => series.push(ln(2, "G56 line C" + k, d, GREEN, 1)));
  [cCsLine1, cCsLine2, cCsLine3, cCsLine4].forEach((d, k) => series.push(ln(2, "CS line C" + k, d, BLUE, 1.2)));
  series.push(scat(2, "CS (Tamburello) C", cCsSquares, "rect", BLUE));
  series.push(scat(2, "G56 (Tamburello) C", cG56Squares, "rect", GREEN));
  series.push(scat(2, "CS", cCsCircles, "circle", BLUE));
  series.push(scat(2, "G56", cG56Circles, "circle", GREEN));

  // ---- D
  series.push(scat(3, "flux (Tamburello)", dCsFlux, "rect", BLUE));
  dFluxErr.forEach(([t, , lo, hi], k) => {
    series.push(ln(3, "flux error" + k, [[t, lo], [t, hi]], "#000", 1));
    series.push({ ...scat(3, "flux caps" + k, [[t, lo], [t, hi]], "rect", "#000", 1), symbolSize: [12, 1.2], itemStyle: { color: "#000" } });
  });
  series.push(scat(3, "flux mean", dFluxErr.map(([t, m]) => [t, m]), "circle", ORANGE, 8));
  series.push(scat(3, "flux", dFluxCircles, "circle", ORANGE, 8));
  series.push({
    type: "scatter",
    name: "low wind",
    xAxisIndex: 12,
    yAxisIndex: 12,
    z: 8,
    silent: true,
    symbol: "circle",
    symbolSize: 1,
    itemStyle: { color: "rgba(0,0,0,0)" },
    data: [[toM(LOW_WIND_LABEL[0]), LOW_WIND_LABEL[1]]],
    label: {
      show: true,
      position: "inside",
      formatter: "low wind",
      fontFamily: SERIF,
      fontSize: 20,
      color: "#000",
      backgroundColor: "rgba(255,255,255,0.95)",
      borderRadius: 5,
      padding: [3, 6, 4, 6],
    },
    markLine: {
      silent: true,
      symbol: ["none", "arrow"],
      symbolSize: 9,
      lineStyle: { color: "#222", width: 1, type: "solid" },
      label: { show: false },
      emphasis: { disabled: true },
      data: LOW_WIND_ARROWS.map(([a, b]) => [{ coord: [toM(a[0]), a[1]] }, { coord: [toM(b[0]), b[1]] }]),
    },
  });

  // ---- E
  series.push(ln(4, "GWL", gwl, BLUE, 1.2));
  series.push(ln(4, "Temp1", tempSeg1, GREEN, 1.2, 18));
  series.push(ln(4, "Temp2", tempSeg2, GREEN, 1.2, 18));

  // ---- F
  series.push(ln(5, "calc", calcSeg1, BLUE, 1.2));
  series.push(ln(5, "calc", calcSeg2, BLUE, 1.2));
  series.push(ln(5, "obs", obsSeg1, ORANGE, 1.2));
  series.push(ln(5, "obs", obsSeg2, ORANGE, 1.2));

  // ---- G
  series.push(ln(6, "VT", vtCounts, "#000", 1));

  // ---- H
  series.push({
    type: "line",
    name: "Extension",
    xAxisIndex: 28,
    yAxisIndex: 28,
    data: xy(extension),
    symbol: "circle",
    symbolSize: 8,
    showSymbol: true,
    lineStyle: { color: "#222", width: 1 },
    itemStyle: { color: "#ffffff", borderColor: "#333", borderWidth: 1 },
    z: 5,
    silent: true,
  });

  // period labels
  PERIOD_LABELS.forEach(([txt, x]) => {
    graphics.push({ type: "text", x: x as number, y: 35, style: { text: txt as string, fontFamily: SERIF, fontSize: 20, fontStyle: "italic", fill: "#000", align: "center", verticalAlign: "middle" } });
  });

  // frame
  graphics.push({
    type: "polyline",
    shape: { points: [[1342, 10.5], [10.5, 10.5], [10.5, 1300.5], [1342, 1300.5]] },
    style: { stroke: "#aaaaaa", lineWidth: 1, fill: "none" },
    z: 0,
  });

  // caption
  CAPTION_LINES.forEach((txt, k) => {
    graphics.push({
      type: "text",
      x: 25,
      y: 1321 + k * 25,
      style: {
        text: txt,
        fontFamily: SANS,
        fontSize: CAPTION_FONT,
        fill: "#111",
        align: "left",
        verticalAlign: "middle",
        rich: {
          b: { fontFamily: SANS, fontSize: CAPTION_FONT, fontWeight: "bold", fill: "#111" },
          g: { fontFamily: SANS, fontSize: CAPTION_FONT, fill: "#888888" },
        },
      },
    });
  });

  const legendBase = {
    orient: "horizontal",
    icon: "circle",
    itemWidth: 9,
    itemHeight: 9,
    selectedMode: false,
    backgroundColor: "rgba(255,255,255,0.85)",
    borderColor: "#cccccc",
    borderWidth: 1,
    borderRadius: 4,
    textStyle: { fontFamily: SERIF, fontSize: 18, color: "#000", padding: [0, 0, 0, 13] },
  };
  const legends = [
    { ...legendBase, data: ["CS", "G56"], left: 924, top: 162, itemGap: 36, padding: [2, 5, 2, 15] },
    { ...legendBase, data: ["TAS", "NapN", "NapE1"], left: 788, top: 303, itemGap: 33, padding: [2, 5, 2, 15] },
    { ...legendBase, data: ["CS", "G56"], left: 924, top: 342, itemGap: 36, padding: [2, 5, 2, 15] },
    {
      ...legendBase,
      data: ["calc", "obs"],
      icon: "rect",
      itemWidth: 28,
      itemHeight: 1.5,
      left: 328,
      top: 871,
      itemGap: 25,
      padding: [2, 5, 2, 5],
      textStyle: { fontFamily: SERIF, fontSize: 18, color: "#000", padding: [0, 0, 0, 5] },
    },
  ];

  return {
    animation: false,
    backgroundColor: "#ffffff",
    grid: grids,
    xAxis: xAxes,
    yAxis: yAxes,
    legend: legends,
    series,
    graphic: graphics,
  };
}

export default function App() {
  const ref = useRef<HTMLDivElement>(null);
  useEffect(() => {
    if (!ref.current) return;
    const chart = echarts.init(ref.current, null, { renderer: "svg" });
    chart.setOption(buildOption() as any);
    return () => chart.dispose();
  }, []);
  return <div ref={ref} style={{ position: "absolute", left: 0, top: 0, width: 1342, height: 1440, background: "#fff" }} />;
}
